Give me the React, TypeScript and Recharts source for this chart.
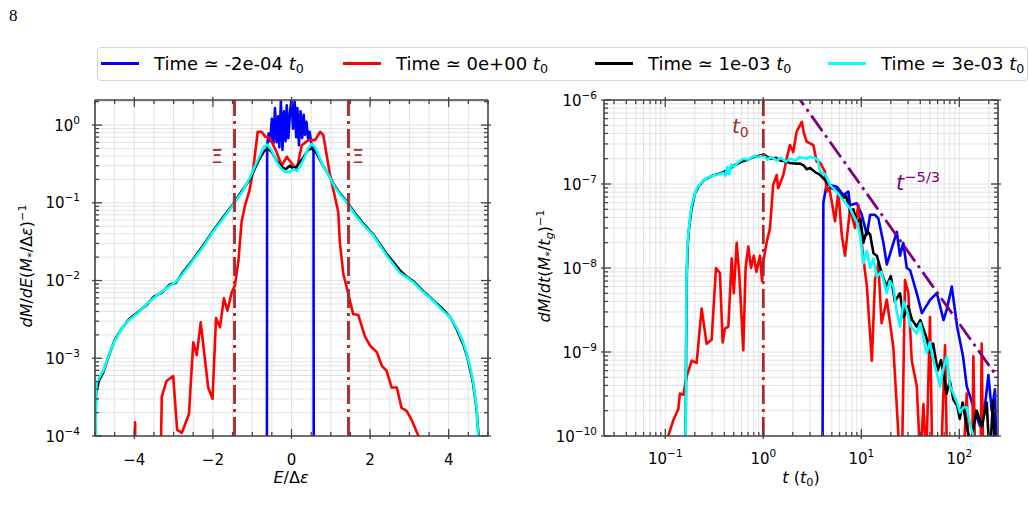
import React from 'react';
import { LineChart, Line, XAxis, YAxis, CartesianGrid, ReferenceLine } from 'recharts';

const FONT = '"DejaVu Sans", sans-serif';
const BROWN = '#a52a2a';
const PURPLE = '#800080';
const GRID = '#e2e2e2';
const SPINE = '#444444';

type Pt = [number, number];

// ---- energy distribution: E/Δε vs dM/dE ----
const eBlue: Pt[] = [
  [-0.63, 1e-7], [-0.62, 0.55], [-0.58, 0.78], [-0.54, 0.62], [-0.5, 1.2], [-0.46, 0.58],
  [-0.42, 1.66], [-0.38, 0.6], [-0.34, 1.3], [-0.31, 0.52], [-0.27, 2.0], [-0.23, 0.48],
  [-0.19, 1.5], [-0.15, 0.62], [-0.12, 1.8], [-0.08, 0.68], [-0.04, 1.4], [0, 2.2],
  [0.04, 0.9], [0.08, 2.0], [0.12, 0.7], [0.15, 1.65], [0.19, 0.55], [0.23, 1.5],
  [0.27, 0.68], [0.31, 1.35], [0.34, 0.75], [0.38, 1.1], [0.42, 0.68], [0.46, 0.82],
  [0.5, 0.6], [0.54, 0.5], [0.56, 0.45], [0.57, 1e-7],
];

const eRed: Pt[] = [
  [-4.06, 1e-6], [-3.98, 1.5e-4], [-3.93, 1e-6], [-3.39, 1e-6], [-3.3, 3.2e-4], [-3.18, 5.1e-4],
  [-3.01, 5.9e-4], [-2.91, 1.2e-4], [-2.79, 1.1e-4], [-2.61, 1.9e-4], [-2.5, 1.6e-3],
  [-2.41, 1.1e-3], [-2.31, 2.9e-3], [-2.12, 4.2e-4], [-2.01, 3e-4], [-1.92, 3.3e-3],
  [-1.82, 2.5e-3], [-1.72, 5.9e-3], [-1.63, 4.1e-3], [-1.52, 7.1e-3], [-1.44, 8.6e-3],
  [-1.35, 0.018], [-1.27, 0.057], [-1.18, 0.093], [-1.06, 0.15], [-0.97, 0.28], [-0.86, 0.82],
  [-0.76, 0.82], [-0.67, 0.71], [-0.55, 0.68], [-0.38, 0.45], [-0.25, 0.3], [-0.12, 0.39],
  [0.05, 0.3], [0.13, 0.26], [0.26, 0.55], [0.43, 0.64], [0.6, 0.64], [0.73, 0.82],
  [0.81, 0.74], [0.98, 0.23], [1.19, 0.076], [1.23, 0.031], [1.32, 0.012], [1.36, 0.01],
  [1.57, 3.7e-3], [1.7, 3.6e-3], [1.87, 1.9e-3], [2.0, 1.45e-3], [2.17, 1.2e-3], [2.3, 8e-4],
  [2.42, 6.9e-4], [2.55, 4.2e-4], [2.68, 4.2e-4], [2.8, 2.3e-4], [2.93, 2.1e-4], [3.06, 1.6e-4],
  [3.23, 1e-4], [3.4, 5e-5],
];

const eBlack: Pt[] = [
  [-5.0, 1e-5], [-4.99, 1.5e-4], [-4.97, 3.6e-4], [-4.9, 5.2e-4], [-4.79, 6.6e-4], [-4.65, 1.08e-3],
  [-4.49, 1.75e-3], [-4.3, 2.5e-3], [-4.1, 3.3e-3], [-3.94, 3.8e-3], [-3.7, 4.8e-3], [-3.5, 6.2e-3],
  [-3.3, 7.0e-3], [-3.09, 8.9e-3], [-2.95, 9.3e-3], [-2.76, 0.0128], [-2.51, 0.0185], [-2.25, 0.028],
  [-2.0, 0.043], [-1.75, 0.064], [-1.49, 0.095], [-1.25, 0.145], [-1.06, 0.2], [-0.9, 0.3],
  [-0.8, 0.38], [-0.7, 0.46], [-0.6, 0.5], [-0.5, 0.45], [-0.37, 0.34], [-0.25, 0.29],
  [-0.15, 0.27], [-0.04, 0.3], [0.05, 0.27], [0.15, 0.3], [0.3, 0.38], [0.42, 0.48], [0.51, 0.5],
  [0.6, 0.47], [0.7, 0.38], [0.8, 0.3], [0.9, 0.25], [1.1, 0.165], [1.25, 0.128], [1.4, 0.105],
  [1.6, 0.075], [1.8, 0.056], [2.08, 0.039], [2.42, 0.022], [2.6, 0.017], [2.76, 0.0135],
  [2.93, 0.0112], [3.1, 0.0098], [3.35, 0.0073], [3.6, 0.0056], [3.85, 0.0043], [4.05, 0.0033],
  [4.2, 0.0024], [4.35, 0.0016], [4.46, 0.0011], [4.55, 7e-4], [4.62, 4.8e-4], [4.71, 2.2e-4],
  [4.76, 1e-4], [4.78, 1e-5],
];

const eCyan: Pt[] = [
  [-5.0, 1e-5], [-4.98, 2e-4], [-4.96, 4.7e-4], [-4.88, 5.8e-4], [-4.79, 6.9e-4], [-4.65, 1.1e-3],
  [-4.49, 1.7e-3], [-4.28, 2.6e-3], [-4.1, 3.2e-3], [-3.94, 3.7e-3], [-3.7, 4.9e-3], [-3.43, 6.4e-3],
  [-3.09, 8.6e-3], [-2.95, 9.5e-3], [-2.76, 0.0123], [-2.51, 0.018], [-2.25, 0.027], [-2.0, 0.042],
  [-1.75, 0.062], [-1.49, 0.093], [-1.25, 0.14], [-1.06, 0.21], [-0.9, 0.32], [-0.8, 0.41],
  [-0.7, 0.52], [-0.62, 0.56], [-0.5, 0.47], [-0.37, 0.33], [-0.25, 0.27], [-0.15, 0.25],
  [-0.04, 0.25], [0.05, 0.27], [0.15, 0.26], [0.3, 0.35], [0.42, 0.5], [0.51, 0.57], [0.6, 0.52],
  [0.7, 0.4], [0.8, 0.3], [0.9, 0.25], [1.1, 0.16], [1.25, 0.125], [1.4, 0.103], [1.6, 0.072],
  [1.8, 0.054], [2.08, 0.038], [2.42, 0.021], [2.76, 0.0125], [2.93, 0.011], [3.1, 0.0095],
  [3.35, 0.0071], [3.6, 0.0055], [3.85, 0.0041], [4.05, 0.0033], [4.2, 0.0025], [4.35, 0.0017],
  [4.46, 0.00114], [4.55, 7.5e-4], [4.62, 5.1e-4], [4.71, 2.3e-4], [4.75, 1e-4], [4.77, 1e-5],
];

// ---- fallback rate: t (t0) vs dM/dt ----
const tBlue: Pt[] = [
  [4.0, 1e-11], [4.1, 6e-8], [4.43, 1.0e-7], [5.0, 9.6e-8], [5.61, 9.3e-8], [6.55, 7.4e-8],
  [7.37, 8.1e-8], [7.67, 5.6e-8], [8.98, 5.9e-8], [10.1, 4.3e-8], [11.4, 2.5e-8], [12.3, 4.3e-8],
  [13.8, 4.3e-8], [14.9, 3.9e-8], [16.8, 2.0e-8], [18.2, 1.1e-8], [20.4, 1.7e-8], [23, 2.7e-8],
  [24.8, 1.4e-8], [26.8, 2.0e-8], [29.1, 1.0e-8], [31.5, 9.4e-9], [36.8, 5e-9], [41.5, 2.9e-9],
  [50.5, 4.2e-9], [59, 5e-9], [69, 2.4e-9], [74.3, 3.2e-9], [83.8, 6.0e-9], [95, 2e-9],
  [109, 8.9e-10], [119, 3.9e-10], [128, 3e-10], [145, 1.9e-10], [163, 1.3e-10], [184, 2.5e-10],
  [198, 5.3e-10], [214, 2e-10], [231, 3.6e-10], [240, 5e-11],
];

const tRed: Pt[] = [
  [0.105, 1e-11], [0.107, 1e-10], [0.121, 1.55e-10], [0.136, 2.1e-10], [0.141, 3.2e-10],
  [0.153, 3.1e-10], [0.165, 5.1e-10], [0.186, 7.9e-10], [0.209, 7.4e-10], [0.235, 3.3e-9],
  [0.264, 1.25e-9], [0.297, 1.4e-9], [0.329, 1e-8], [0.361, 8.7e-9], [0.385, 1.3e-9],
  [0.406, 1.9e-9], [0.44, 2.0e-9], [0.476, 1.3e-8], [0.5, 5e-9], [0.535, 2.0e-8], [0.57, 8e-9],
  [0.625, 1.05e-9], [0.66, 1.0e-8], [0.703, 1.8e-8], [0.75, 1.0e-8], [0.8, 1.4e-8], [0.85, 9e-9],
  [0.925, 1.4e-8], [0.97, 7e-9], [1.0, 1.2e-8], [1.08, 2.0e-8], [1.17, 2.96e-8], [1.26, 9.7e-8],
  [1.37, 1.28e-7], [1.42, 8.9e-8], [1.6, 1.28e-7], [1.73, 2e-7], [1.87, 2.9e-7], [2.02, 2.4e-7],
  [2.19, 4.2e-7], [2.47, 5.5e-7], [2.6, 4e-7], [2.77, 3.2e-7], [3.24, 2.9e-7], [3.5, 1.85e-7],
  [3.79, 1.8e-7], [4.26, 1.4e-7], [4.43, 8.1e-8], [4.7, 9e-8], [4.99, 6.2e-8], [5.39, 3.6e-8],
  [5.83, 8.1e-8], [6.31, 2.5e-8], [6.82, 1.4e-8], [7.67, 5.1e-8], [8.63, 3.0e-8], [9.32, 5.6e-8],
  [10.1, 2e-8], [10.5, 1.3e-8], [11.4, 6e-9], [12.8, 7.9e-10], [13.8, 7.2e-9], [14.9, 1.14e-8],
  [16.1, 2.2e-9], [18.2, 4.2e-9], [21.2, 1.15e-9], [24.8, 5e-11], [26, 5e-11], [27.9, 7.2e-9],
  [30.2, 5e-9], [32.7, 7.9e-10], [36.8, 3.9e-10], [40, 5e-11], [43, 2.4e-10], [46, 5e-11],
  [50.2, 2.6e-9], [53, 5e-11], [65, 5e-11], [71.5, 1.2e-9], [75, 5e-11], [110, 5e-11],
  [119, 3.2e-10], [125, 5e-11], [135, 5e-11], [139, 8.9e-10], [145, 5e-11], [165, 5e-11],
  [169, 1.26e-9], [175, 5e-11], [245, 5e-11],
];

const tBlack: Pt[] = [
  [0.16, 1e-11], [0.163, 1e-9], [0.166, 9e-9], [0.17, 2e-8], [0.175, 3e-8], [0.185, 5e-8],
  [0.2, 7.6e-8], [0.22, 9.5e-8], [0.25, 1.12e-7], [0.3, 1.25e-7], [0.35, 1.32e-7], [0.4, 1.4e-7],
  [0.45, 1.5e-7], [0.5, 1.65e-7], [0.6, 1.85e-7], [0.7, 1.95e-7], [0.8, 2.1e-7], [0.9, 2.15e-7],
  [1.0, 2.25e-7], [1.1, 2.1e-7], [1.2, 2.0e-7], [1.35, 2.05e-7], [1.5, 1.9e-7], [1.7, 1.85e-7],
  [1.87, 1.78e-7], [2.1, 1.75e-7], [2.37, 1.75e-7], [2.6, 1.65e-7], [2.77, 1.5e-7], [3.0, 1.55e-7],
  [3.4, 1.38e-7], [3.8, 1.28e-7], [4.5, 1.05e-7], [5.0, 8.9e-8], [5.6, 8.5e-8], [6.5, 6.7e-8],
  [7.0, 7.2e-8], [7.7, 4.7e-8], [8.3, 5.0e-8], [9.0, 3.5e-8], [9.8, 3.8e-8], [10.5, 2.0e-8],
  [11.4, 2.8e-8], [12.3, 2.5e-8], [13.3, 1.5e-8], [14.4, 1.4e-8], [16, 9e-9], [18, 6e-9],
  [20, 8e-9], [22, 4e-9], [24.8, 5e-9], [27, 2.6e-9], [30, 3.5e-9], [33, 2.4e-9], [36.8, 2.0e-9],
  [40, 2.4e-9], [46, 1.5e-9], [50, 1.0e-9], [54, 1.26e-9], [60, 6e-10], [65, 8e-10], [70, 5e-10],
  [74, 3.2e-10], [80, 4.5e-10], [87, 2.7e-10], [95, 2.3e-10], [101, 1.6e-10], [108, 2.5e-10],
  [119, 1.3e-10], [130, 8e-11], [150, 2e-10], [170, 1.3e-10], [190, 2.5e-10], [205, 5e-11],
  [220, 2.6e-10], [235, 5e-11],
];

const tCyan: Pt[] = [
  [0.16, 1e-11], [0.163, 1e-9], [0.165, 8e-9], [0.168, 1.7e-8], [0.172, 2.5e-8], [0.18, 4.2e-8],
  [0.186, 5.6e-8], [0.2, 7.6e-8], [0.21, 8.9e-8], [0.23, 1.02e-7], [0.265, 1.18e-7], [0.3, 1.25e-7],
  [0.35, 1.3e-7], [0.39, 1.36e-7], [0.41, 1.25e-7], [0.43, 1.6e-7], [0.45, 1.3e-7], [0.47, 1.7e-7],
  [0.5, 1.6e-7], [0.55, 1.8e-7], [0.625, 2.0e-7], [0.7, 1.95e-7], [0.8, 2.15e-7], [0.9, 2.1e-7],
  [1.0, 2.2e-7], [1.1, 1.95e-7], [1.2, 2.1e-7], [1.37, 1.9e-7], [1.5, 2.05e-7], [1.7, 1.85e-7],
  [1.87, 2.0e-7], [2.1, 1.9e-7], [2.37, 2.1e-7], [2.77, 2.0e-7], [3.0, 2.1e-7], [3.3, 2.05e-7],
  [3.6, 1.95e-7], [3.8, 1.4e-7], [4.3, 1.3e-7], [4.8, 9.7e-8], [5.6, 8.1e-8], [6.5, 6.5e-8],
  [7.7, 5.1e-8], [9.0, 3.5e-8], [9.7, 2.5e-8], [10.5, 1.14e-8], [11.4, 1.6e-8], [12.3, 1.0e-8],
  [13.3, 1.3e-8], [14.4, 7.9e-9], [16, 9e-9], [18.2, 5e-9], [19.5, 7e-9], [21.2, 6e-9], [23, 3e-9],
  [24.8, 2e-9], [27, 4e-9], [29.1, 3.2e-9], [32, 2e-9], [36.8, 1.66e-9], [40, 2.2e-9],
  [46.5, 9.7e-10], [50, 1.3e-9], [54.3, 8e-10], [58, 6e-10], [63.6, 3.9e-10], [68, 6e-10],
  [74.3, 8.9e-10], [80, 4e-10], [86.9, 3.2e-10], [95, 2.5e-10], [101.6, 1.9e-10], [110, 2.2e-10],
  [119, 2.2e-10], [130, 1.3e-10], [139, 1e-10], [145, 5e-11],
];

// t^{-5/3} guide line, end points
const slopeGuide: Pt[] = [[2.0, 1.33e-6], [248, 4.9e-10]];

// ---- ticks ----
const LEFT_X_MAJOR = [-4, -2, 0, 2, 4];
const LEFT_X_LABELS = ['−4', '−2', '0', '2', '4'];
const LEFT_X_TICKS = [-5, -4.5, -4, -3.5, -3, -2.5, -2, -1.5, -1, -0.5, 0, 0.5, 1, 1.5, 2, 2.5, 3, 3.5, 4, 4.5, 5];
const LEFT_Y_MAJOR = [1e-4, 1e-3, 1e-2, 1e-1, 1];
const LEFT_Y_LABELS = ['−4', '−3', '−2', '−1', '0'];
const RIGHT_X_MAJOR = [0.1, 1, 10, 100];
const RIGHT_X_LABELS = ['−1', '0', '1', '2'];
const RIGHT_Y_MAJOR = [1e-10, 1e-9, 1e-8, 1e-7, 1e-6];
const RIGHT_Y_LABELS = ['−10', '−9', '−8', '−7', '−6'];
const MANTISSA = [2, 3, 4, 5, 6, 7, 8, 9];

const minorTicks = (decades: number[], lo: number, hi: number) =>
  decades.flatMap((d) => MANTISSA.map((m) => m * d)).filter((v) => v >= lo && v <= hi);

const LEFT_Y_TICKS = [...LEFT_Y_MAJOR, ...minorTicks([1e-4, 1e-3, 1e-2, 1e-1, 1], 1e-4, 2.1)];
const RIGHT_X_TICKS = [...RIGHT_X_MAJOR, ...minorTicks([0.01, 0.1, 1, 10, 100], 0.0237, 248)];
const RIGHT_Y_TICKS = [...RIGHT_Y_MAJOR, ...minorTicks([1e-10, 1e-9, 1e-8, 1e-7], 1e-10, 1e-6)];

const rows = (pts: Pt[]) => pts.map(([x, v]) => ({ x, v }));

// plot box sizes (pixels)
const PW_L = 393;
const PW_R = 394;
const PH = 336;

const Pow = ({ x, y, exp, anchor }: { x: number; y: number; exp: string; anchor: 'end' | 'middle' }) => (
  <text x={x} y={y} textAnchor={anchor} fontFamily={FONT} fontSize={15} fill="#000">
    10<tspan dy={-7} fontSize={10.5}>{exp}</tspan>
  </text>
);

const xTick = (major: number[], labels: string[], pow: boolean) => (p: any) => {
  const { x, y, payload } = p;
  const i = major.indexOf(payload.value);
  const isMajor = i >= 0;
  const len = isMajor ? 7 : 4;
  return (
    <g>
      <line x1={x} x2={x} y1={y + (isMajor ? 3 : 0)} y2={y - len} stroke={SPINE} strokeWidth={1.3} />
      <line x1={x} x2={x} y1={y - PH - (isMajor ? 3 : 0)} y2={y - PH + len} stroke={SPINE} strokeWidth={1.3} />
      {isMajor &&
        (pow ? (
          <Pow x={x} y={y + 28} exp={labels[i]} anchor="middle" />
        ) : (
          <text x={x} y={y + 29} textAnchor="middle" fontFamily={FONT} fontSize={15} fill="#000">
            {labels[i]}
          </text>
        ))}
    </g>
  );
};

const yTick = (major: number[], labels: string[], pw: number, gap: number) => (p: any) => {
  const { x, y, payload } = p;
  const i = major.indexOf(payload.value);
  const isMajor = i >= 0;
  const len = isMajor ? 7 : 4;
  return (
    <g>
      <line x1={x - (isMajor ? 3 : 0)} x2={x + len} y1={y} y2={y} stroke={SPINE} strokeWidth={1.3} />
      <line x1={x + pw + (isMajor ? 3 : 0)} x2={x + pw - len} y1={y} y2={y} stroke={SPINE} strokeWidth={1.3} />
      {isMajor && <Pow x={x - gap} y={y + 5.5} exp={labels[i]} anchor="end" />}
    </g>
  );
};

const series = (pts: Pt[], color: string, key: string) => (
  <Line
    key={key}
    data={rows(pts)}
    dataKey="v"
    stroke={color}
    strokeWidth={2.6}
    dot={false}
    isAnimationActive={false}
    strokeLinejoin="round"
  />
);

const abs = (left: number, top: number, extra: React.CSSProperties = {}): React.CSSProperties => ({
  position: 'absolute',
  left,
  top,
  fontFamily: FONT,
  whiteSpace: 'nowrap',
  lineHeight: 1,
  ...extra,
});

const sub: React.CSSProperties = { fontSize: '70%', verticalAlign: '-0.25em', fontStyle: 'normal' };
const sup: React.CSSProperties = { fontSize: '70%', verticalAlign: '0.55em', fontStyle: 'normal' };

const legendItems = [
  { color: '#0000ff', text: 'Time ≃ -2e-04 ', x: 101 },
  { color: '#ff0000', text: 'Time ≃ 0e+00 ', x: 343 },
  { color: '#000000', text: 'Time ≃ 1e-03 ', x: 595 },
  { color: '#00ffff', text: 'Time ≃ 3e-03 ', x: 828 },
];

const dash = '19 5 3 5';

export default function App() {
  return (
    <div style={{ position: 'absolute', left: 0, top: 0, width: 1029, height: 516, background: '#fff' }}>
      <div style={abs(9, 7, { fontFamily: '"Liberation Serif", serif', fontSize: 17 })}>8</div>

      {/* left panel */}
      <div style={{ position: 'absolute', left: 0, top: 0 }}>
        <LineChart width={510} height={500} margin={{ top: 100, right: 22, bottom: 34, left: 35 }}>
          <CartesianGrid stroke={GRID} strokeWidth={1} />
          <XAxis
            dataKey="x"
            type="number"
            domain={[-5, 5]}
            allowDataOverflow
            ticks={LEFT_X_TICKS}
            interval={0}
            height={30}
            tickSize={0}
            tickMargin={0}
            tickLine={false}
            axisLine={{ stroke: SPINE, strokeWidth: 1.6 }}
            tick={xTick(LEFT_X_MAJOR, LEFT_X_LABELS, false)}
          />
          <YAxis
            type="number"
            scale="log"
            domain={[1e-4, 2.1]}
            allowDataOverflow
            ticks={LEFT_Y_TICKS}
            interval={0}
            width={60}
            tickSize={0}
            tickMargin={0}
            tickLine={false}
            axisLine={{ stroke: SPINE, strokeWidth: 1.6 }}
            tick={yTick(LEFT_Y_MAJOR, LEFT_Y_LABELS, PW_L, 15)}
          />
          {series(eBlue, '#0000ff', 'b')}
          {series(eRed, '#ff0000', 'r')}
          {series(eBlack, '#000000', 'k')}
          {series(eCyan, '#00ffff', 'c')}
          <ReferenceLine x={-1.45} stroke={BROWN} strokeWidth={2.8} strokeDasharray={dash} />
          <ReferenceLine x={1.45} stroke={BROWN} strokeWidth={2.8} strokeDasharray={dash} />
          <ReferenceLine x={5} stroke={SPINE} strokeWidth={1.6} />
          <ReferenceLine y={2.1} stroke={SPINE} strokeWidth={1.6} />
        </LineChart>
      </div>

      {/* right panel */}
      <div style={{ position: 'absolute', left: 520, top: 0 }}>
        <LineChart width={500} height={500} margin={{ top: 100, right: 22, bottom: 34, left: 24 }}>
          <CartesianGrid stroke={GRID} strokeWidth={1} />
          <XAxis
            dataKey="x"
            type="number"
            scale="log"
            domain={[0.0237, 248]}
            allowDataOverflow
            ticks={RIGHT_X_TICKS}
            interval={0}
            height={30}
            tickSize={0}
            tickMargin={0}
            tickLine={false}
            axisLine={{ stroke: SPINE, strokeWidth: 1.6 }}
            tick={xTick(RIGHT_X_MAJOR, RIGHT_X_LABELS, true)}
          />
          <YAxis
            type="number"
            scale="log"
            domain={[1e-10, 1e-6]}
            allowDataOverflow
            ticks={RIGHT_Y_TICKS}
            interval={0}
            width={60}
            tickSize={0}
            tickMargin={0}
            tickLine={false}
            axisLine={{ stroke: SPINE, strokeWidth: 1.6 }}
            tick={yTick(RIGHT_Y_MAJOR, RIGHT_Y_LABELS, PW_R, 7)}
          />
          {series(tBlue, '#0000ff', 'b')}
          {series(tRed, '#ff0000', 'r')}
          {series(tBlack, '#000000', 'k')}
          {series(tCyan, '#00ffff', 'c')}
          <Line
            data={rows(slopeGuide)}
            dataKey="v"
            stroke={PURPLE}
            strokeWidth={2.8}
            strokeDasharray={dash}
            dot={false}
            isAnimationActive={false}
          />
          <ReferenceLine x={1} stroke={BROWN} strokeWidth={2.8} strokeDasharray={dash} />
          <ReferenceLine x={248} stroke={SPINE} strokeWidth={1.6} />
          <ReferenceLine y={1e-6} stroke={SPINE} strokeWidth={1.6} />
        </LineChart>
      </div>

      {/* legend */}
      <div
        style={{
          position: 'absolute',
          left: 97,
          top: 47,
          width: 929,
          height: 32,
          border: '1px solid #d4d4d4',
          borderRadius: 4,
          background: '#fff',
        }}
      />
      {legendItems.map((it) => (
        <React.Fragment key={it.color}>
          <div style={{ position: 'absolute', left: it.x, top: 62, width: 38, height: 3, background: it.color }} />
          <div style={abs(it.x + 53, 55, { fontSize: 18 })}>
            {it.text}
            <i>t</i>
            <span style={sub}>0</span>
          </div>
        </React.Fragment>
      ))}

      {/* annotations */}
      <div style={abs(211, 147, { fontSize: 19, color: BROWN })}>Ξ</div>
      <div style={abs(352, 147, { fontSize: 19, color: BROWN })}>Ξ</div>
      <div style={abs(732, 116, { fontSize: 20, color: BROWN })}>
        <i>t</i>
        <span style={sub}>0</span>
      </div>
      <div style={abs(896, 170, { fontSize: 21, color: PURPLE })}>
        <i>t</i>
        <span style={sup}>−5/3</span>
      </div>

      {/* axis titles */}
      <div style={abs(291, 470, { fontSize: 16, transform: 'translateX(-50%)' })}>
        <i>E</i>/Δ<i>ε</i>
      </div>
      <div style={abs(801, 470, { fontSize: 16, transform: 'translateX(-50%)' })}>
        <i>t</i> (<i>t</i>
        <span style={sub}>0</span>)
      </div>
      <div style={abs(27, 266, { fontSize: 16, transform: 'translate(-50%, -50%) rotate(-90deg)' })}>
        <i>dM</i>/<i>dE</i>(<i>M</i>
        <span style={sub}>*</span>/Δ<i>ε</i>)<span style={sup}>−1</span>
      </div>
      <div style={abs(545, 266, { fontSize: 16, transform: 'translate(-50%, -50%) rotate(-90deg)' })}>
        <i>dM</i>/<i>dt</i>(<i>M</i>
        <span style={sub}>*</span>/<i>t</i>
        <span style={{ ...sub, fontStyle: 'italic' }}>g</span>)<span style={sup}>−1</span>
      </div>
    </div>
  );
}
